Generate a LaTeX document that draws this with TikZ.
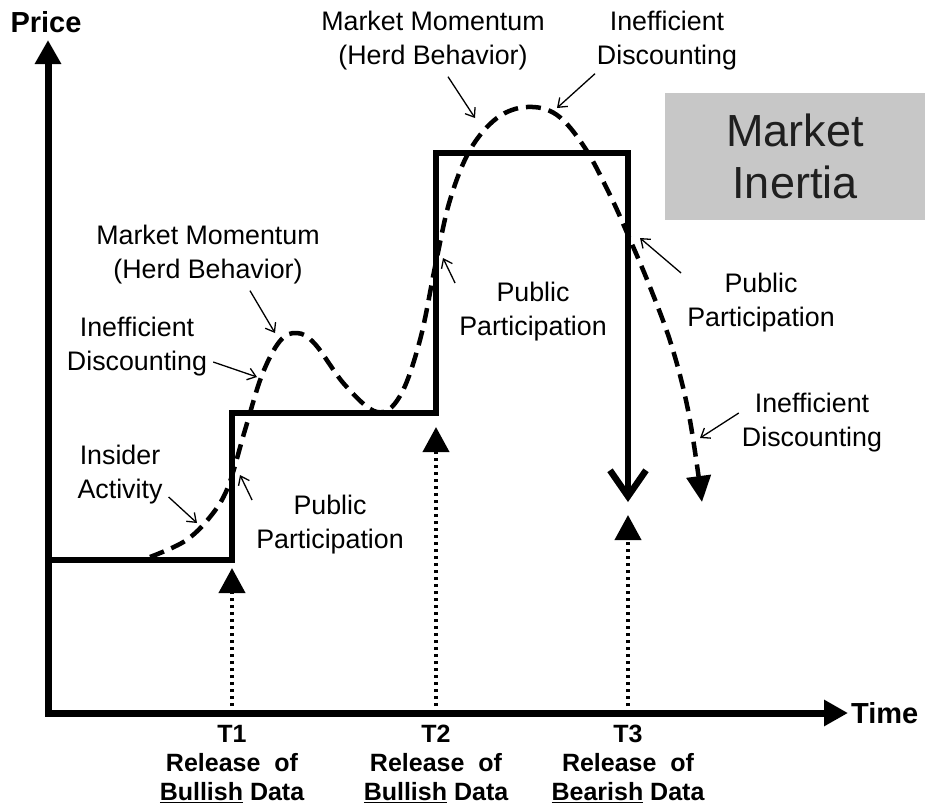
\documentclass[tikz,border=0pt]{standalone}
\usepackage{fontspec}
\setmainfont{Liberation Sans}
\usetikzlibrary{arrows.meta,calc}
\begin{document}
\begin{tikzpicture}[x=1pt,y=-1pt,
  axisline/.style={line width=7pt,{Triangle[length=24pt,width=25pt]}-{Triangle[length=24pt,width=25pt]}},
  stepline/.style={line width=6.5pt,-{Straight Barb[length=26pt,width=36pt]}},
  dashcurve/.style={line width=4.5pt,dash pattern=on 15pt off 8pt,-{Triangle[length=26pt,width=24pt]}},
  dotarrow/.style={line width=4pt,dash pattern=on 3.5pt off 3.5pt,-{Triangle[length=25pt,width=26pt]}},
  note/.style={line width=1.3pt,-{Straight Barb[length=8pt,width=12pt]}},
  lbl/.style={font=\fontsize{26.8}{34}\selectfont,align=center,inner sep=0pt},
  axlbl/.style={font=\bfseries\fontsize{29}{30}\selectfont,inner sep=0pt},
  tlbl/.style={font=\bfseries\fontsize{25}{29}\selectfont,align=center,inner sep=0pt,anchor=north}]
\useasboundingbox (0,0) rectangle (938,807);

% inertia box
\node[fill=black!22,minimum width=260pt,minimum height=127pt,inner sep=0pt,
      font=\fontsize{45}{52}\selectfont,text=black!88,align=center] (inertia) at (795,156.5) {Market\\Inertia};

% axes
\node[axlbl] (price) at (46,22) {Price};
\node[axlbl,anchor=west] (time) at (851,713) {Time};
\coordinate (ytop) at (48,40);
\coordinate (origin) at (48,713);
\coordinate (xend) at (848,713);
\draw[axisline] (ytop) -- (origin) -- (xend);

% event times
\coordinate (t1) at (232,713);
\coordinate (t2) at (436,713);
\coordinate (t3) at (628,713);
\coordinate (t1tip) at (232,568);
\coordinate (t2tip) at (436,427);
\coordinate (t3tip) at (628,515);
\draw[dotarrow] (t1) -- (t1tip);
\draw[dotarrow] (t2) -- (t2tip);
\draw[dotarrow] (t3) -- (t3tip);

\node[tlbl] (t1lbl) at (232,725) {T1\\Release\ \ of\\\underline{Bullish} Data};
\node[tlbl] (t2lbl) at (436,725) {T2\\Release\ \ of\\\underline{Bullish} Data};
\node[tlbl] (t3lbl) at (628,725) {T3\\Release\ \ of\\\underline{Bearish} Data};

% fundamental value (step path)
\draw[stepline] (48,560) -- (232,560) -- (232,413) -- (436,413) -- (436,153) -- (628,153) -- (628,502);

% market price (dashed path)
\draw[dashcurve] plot[smooth,tension=0.6] coordinates {
  (150,557) (185,541) (210,517) (228,487) (245,430) (262,375) (280,341)
  (297,333) (315,344) (345,385) (377,412) (400,396) (420,340) (436,262)
  (450,200) (470,150) (497,118) (527,107) (557,115) (585,148) (610,195)
  (628,235) (650,287) (672,347) (689,415) (702,502)};

% annotations
\node[lbl] (mmA) at (208,255) {Market Momentum\\(Herd Behavior)};
\node[lbl] (idA) at (137,347) {Inefficient\\Discounting};
\node[lbl] (ia)  at (120,475) {Insider\\Activity};
\node[lbl] (ppA) at (330,525) {Public\\Participation};
\node[lbl] (ppB) at (533,312) {Public\\Participation};
\node[lbl] (mmB) at (433,41)  {Market Momentum\\(Herd Behavior)};
\node[lbl] (idB) at (667,41)  {Inefficient\\Discounting};
\node[lbl] (ppC) at (761,303) {Public\\Participation};
\node[lbl] (idC) at (812,423) {Inefficient\\Discounting};

\coordinate (mmAp) at (275,333);
\coordinate (idAp) at (257,377);
\coordinate (iap)  at (197,523);
\coordinate (ppAp) at (240,475);
\coordinate (ppBp) at (443,258);
\coordinate (mmBp) at (475,118);
\coordinate (idBp) at (557,108);
\coordinate (ppCp) at (640,238);
\coordinate (idCp) at (700,438);

\draw[note] ($(mmA.south)+(42,6)$) -- (mmAp);
\draw[note] ($(idA.east)+(6,15)$) -- (idAp);
\draw[note] ($(ia.east)+(6,22)$) -- (iap);
\draw[note] ($(ppA.west)+(-4,-25)$) -- (ppAp);
\draw[note] ($(ppB.west)+(-4,-29)$) -- (ppBp);
\draw[note] ($(mmB.south)+(15,6)$) -- (mmBp);
\draw[note] ($(idB.south)+(-72,3)$) -- (idBp);
\draw[note] ($(ppC.west)+(-6,-30)$) -- (ppCp);
\draw[note] ($(idC.west)+(-3,-10)$) -- (idCp);
\end{tikzpicture}
\end{document}
